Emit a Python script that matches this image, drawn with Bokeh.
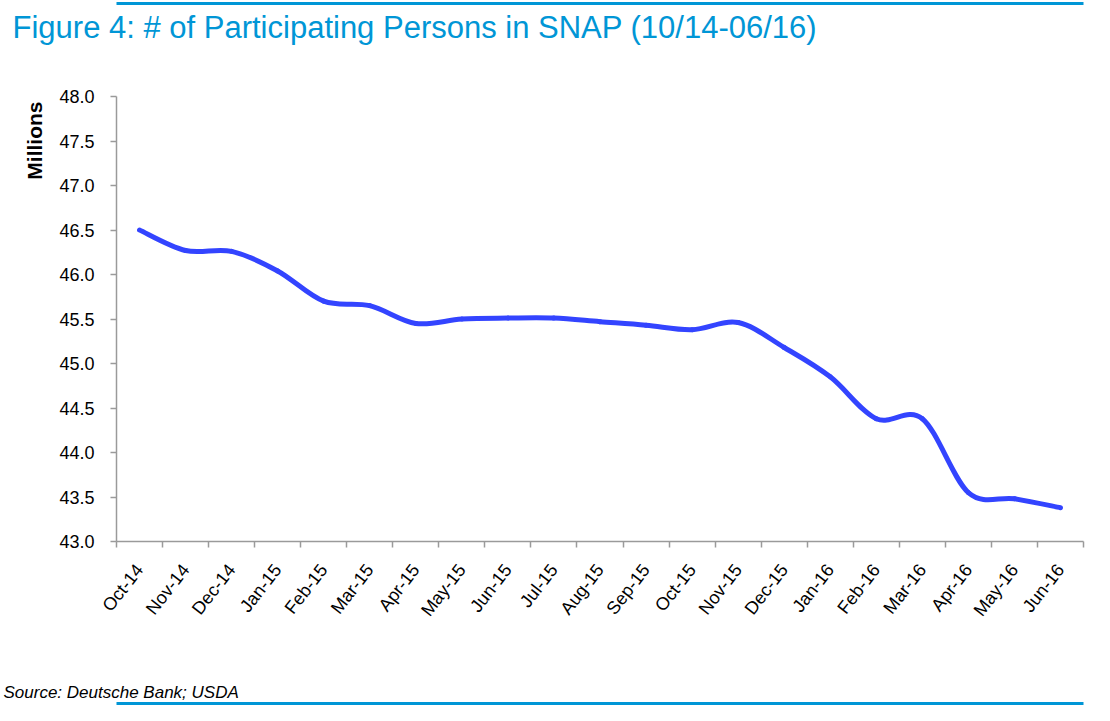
import math
from bokeh.plotting import figure
from bokeh.models import (Range1d, FixedTicker, NumeralTickFormatter, LinearAxis,
                          ColumnDataSource, Title)
from bokeh.embed import file_html
from bokeh.resources import INLINE

# ---- data ----
months = ["Oct-14", "Nov-14", "Dec-14", "Jan-15", "Feb-15", "Mar-15", "Apr-15",
          "May-15", "Jun-15", "Jul-15", "Aug-15", "Sep-15", "Oct-15", "Nov-15",
          "Dec-15", "Jan-16", "Feb-16", "Mar-16", "Apr-16", "May-16", "Jun-16"]
persons = [46.50, 46.27, 46.26, 46.04, 45.70, 45.65, 45.45,
           45.50, 45.51, 45.51, 45.47, 45.43, 45.38, 45.46,
           45.18, 44.85, 44.38, 44.38, 43.55, 43.48, 43.38]
y_ticks = [43.0, 43.5, 44.0, 44.5, 45.0, 45.5, 46.0, 46.5, 47.0, 47.5, 48.0]

BLUE_LINE = "#3344FF"
TITLE_BLUE = "#0096D6"
AXIS_GRAY = "#9A9A9A"
SANS = "Liberation Sans"

W, H = 1094, 705
FL, FR, FT, FB = 116, 1083, 96, 541
n = len(months)

p = figure(width=W, height=H, output_backend="svg", toolbar_location=None,
           x_range=Range1d(-0.5, n - 0.5), y_range=Range1d(43.0, 48.0),
           min_border_left=FL, min_border_right=W - FR,
           min_border_top=FT, min_border_bottom=H - FB)
p.outline_line_color = None
p.xgrid.grid_line_color = None
p.ygrid.grid_line_color = None

# x axis: labels at category centres, tick marks at category boundaries
xax = p.xaxis[0]
xax.ticker = FixedTicker(ticks=list(range(n)),
                         minor_ticks=[i - 0.5 for i in range(n + 1)])
xax.major_label_overrides = {i: m for i, m in enumerate(months)}
xax.major_tick_in = 0
xax.major_tick_out = 0
xax.minor_tick_in = 0
xax.minor_tick_out = 6
xax.minor_tick_line_color = AXIS_GRAY
xax.minor_tick_line_width = 1.5
xax.axis_line_color = AXIS_GRAY
xax.axis_line_width = 1.5
xax.major_label_orientation = math.radians(52)
xax.major_label_standoff = 19
xax.major_label_text_font = SANS
xax.major_label_text_font_size = "18px"
xax.major_label_text_color = "black"

yax = p.yaxis[0]
yax.ticker = FixedTicker(ticks=y_ticks)
yax.formatter = NumeralTickFormatter(format="0.0")
yax.major_tick_in = 0
yax.major_tick_out = 6
yax.minor_tick_out = 0
yax.minor_tick_in = 0
yax.major_tick_line_color = AXIS_GRAY
yax.major_tick_line_width = 1.5
yax.axis_line_color = AXIS_GRAY
yax.axis_line_width = 1.5
yax.major_label_standoff = 16
yax.major_label_text_font = SANS
yax.major_label_text_font_size = "18px"
yax.major_label_text_color = "black"

# smooth (Excel-like) line: cubic Bezier segments built from the data points
xs = list(range(n))
ys = persons
seg = dict(x0=[], y0=[], x1=[], y1=[], cx0=[], cy0=[], cx1=[], cy1=[])
for i in range(n - 1):
    a = max(i - 1, 0)
    b = min(i + 2, n - 1)
    seg["x0"].append(xs[i]); seg["y0"].append(ys[i])
    seg["x1"].append(xs[i + 1]); seg["y1"].append(ys[i + 1])
    seg["cx0"].append(xs[i] + (xs[i + 1] - xs[a]) / 6.0)
    seg["cy0"].append(ys[i] + (ys[i + 1] - ys[a]) / 6.0)
    seg["cx1"].append(xs[i + 1] - (xs[b] - xs[i]) / 6.0)
    seg["cy1"].append(ys[i + 1] - (ys[b] - ys[i]) / 6.0)
p.bezier(x0="x0", y0="y0", x1="x1", y1="y1", cx0="cx0", cy0="cy0",
         cx1="cx1", cy1="cy1", source=ColumnDataSource(seg),
         line_color=BLUE_LINE, line_width=5, line_cap="round")

# ---- side panels (stacked outward from the frame in the order added) ----
def spacer(size, tick_at):
    # invisible axis whose only job is to reserve `size` pixels in a side panel
    return LinearAxis(ticker=FixedTicker(ticks=[tick_at]), axis_line_color=None,
                      major_tick_line_color=None, minor_tick_line_color=None,
                      major_tick_in=0, major_tick_out=size, minor_tick_in=0,
                      minor_tick_out=0, major_label_standoff=0,
                      major_label_overrides={tick_at: ""},
                      major_label_text_font_size="0px")

def rule(width):
    # bare axis line in the brand colour
    return LinearAxis(ticker=FixedTicker(ticks=[]), axis_line_color=TITLE_BLUE,
                      axis_line_width=width, major_tick_line_color=None,
                      minor_tick_line_color=None, major_tick_in=0, major_tick_out=0,
                      minor_tick_in=0, minor_tick_out=0, major_label_standoff=0,
                      major_label_text_font_size="0px")

# above: spacer, title, spacer, blue rule
p.add_layout(spacer(52, 0), "above")
p.add_layout(Title(text="Figure 4: # of Participating Persons in SNAP (10/14-06/16)",
                   text_font=SANS, text_font_size="31px", text_color=TITLE_BLUE,
                   text_font_style="normal", align="left", vertical_align="bottom",
                   offset=12 - FL, standoff=0), "above")
p.add_layout(spacer(4, 0), "above")
p.add_layout(rule(3), "above")

# left: spacer, "Millions"
p.add_layout(spacer(9, 45.0), "left")
p.add_layout(Title(text="Millions", text_font=SANS, text_font_size="21px",
                   text_font_style="bold", text_color="black", align="right",
                   vertical_align="top", offset=5, standoff=0), "left")

# below: spacer, source note, blue rule
p.add_layout(spacer(49, 0), "below")
p.add_layout(Title(text="Source: Deutsche Bank; USDA", text_font=SANS,
                   text_font_size="17px", text_font_style="italic", text_color="black",
                   align="left", vertical_align="bottom", offset=3 - FL, standoff=4), "below")
p.add_layout(rule(3), "below")

open("out.html", "w").write(file_html(p, INLINE))
